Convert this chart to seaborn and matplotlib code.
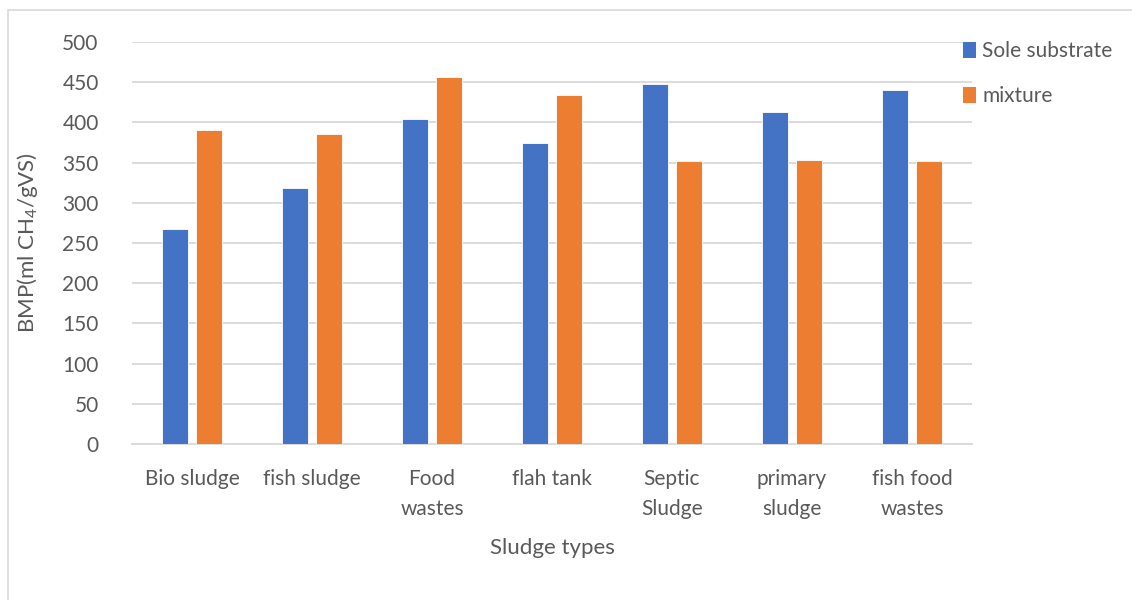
import matplotlib
matplotlib.use("Agg")
import matplotlib.pyplot as plt
from matplotlib.lines import Line2D
from matplotlib.patches import Patch
import seaborn as sns
import pandas as pd

categories = ["Bio sludge", "fish sludge", "Food\nwastes", "flah tank",
              "Septic\nSludge", "primary\nsludge", "fish food\nwastes"]
sole_substrate = [267, 318, 404, 375, 448, 413, 440]
mixture = [390, 386, 456, 434, 352, 353, 352]
series_names = ["Sole substrate", "mixture"]
y_ticks = [0, 50, 100, 150, 200, 250, 300, 350, 400, 450, 500]

colors = {"Sole substrate": "#4472C4", "mixture": "#ED7D31"}
text_color = "#595959"
grid_color = "#D9D9D9"

df = pd.DataFrame({
    "category": categories * 2,
    "series": [series_names[0]] * len(categories) + [series_names[1]] * len(categories),
    "value": sole_substrate + mixture,
})

sns.set_theme(style="white")
plt.rcParams["font.family"] = ["Lato", "DejaVu Sans"]
plt.rcParams["mathtext.fontset"] = "custom"
plt.rcParams["mathtext.rm"] = "Lato"
plt.rcParams["mathtext.it"] = "Lato:italic"

fig = plt.figure(figsize=(11.32, 6.0), dpi=100)
ax = fig.add_axes([132 / 1132, 1 - 444 / 600, 840 / 1132, 402 / 600])

sns.barplot(data=df, x="category", y="value", hue="series", order=categories,
            hue_order=series_names, palette=colors, saturation=1,
            width=0.57, gap=0.23, edgecolor="white", linewidth=0.6,
            ax=ax, legend=False, zorder=3)

ax.set_ylim(0, 500)
ax.set_xlim(-0.5, len(categories) - 0.5)
ax.set_yticks(y_ticks)
ax.set_yticklabels([str(t) for t in y_ticks])
ax.yaxis.grid(True, color=grid_color, linewidth=1.3, zorder=0)
ax.set_axisbelow(True)
for side in ["top", "right", "left"]:
    ax.spines[side].set_visible(False)
ax.spines["bottom"].set_color(grid_color)
ax.spines["bottom"].set_linewidth(1.3)
ax.tick_params(axis="both", length=0, colors=text_color, labelsize=15)
ax.tick_params(axis="x", pad=18)
ax.tick_params(axis="y", pad=24)
for lbl in ax.get_xticklabels():
    lbl.set_linespacing(1.6)

ax.set_xlabel("Sludge types", fontsize=16, color=text_color, labelpad=14)
ax.set_ylabel("BMP(ml CH$_4$/gVS)", fontsize=16, color=text_color, labelpad=16)

handles = [Patch(facecolor=colors[s], edgecolor="none") for s in series_names]
fig.legend(handles, series_names, loc="upper left",
           bbox_to_anchor=(955 / 1132, 1 - 33 / 600), frameon=False,
           fontsize=15, labelcolor=text_color, handlelength=0.6,
           handleheight=0.8, handletextpad=0.3, labelspacing=1.2,
           borderaxespad=0)

# light frame around the chart area
fig.add_artist(Line2D([8 / 1132, 8 / 1132], [0, 1 - 10 / 600],
                      transform=fig.transFigure, color="#D9D9D9", linewidth=1.2))
fig.add_artist(Line2D([8 / 1132, 1], [1 - 10 / 600, 1 - 10 / 600],
                      transform=fig.transFigure, color="#D9D9D9", linewidth=1.2))

fig.savefig("out.png", dpi=100, facecolor="white")
